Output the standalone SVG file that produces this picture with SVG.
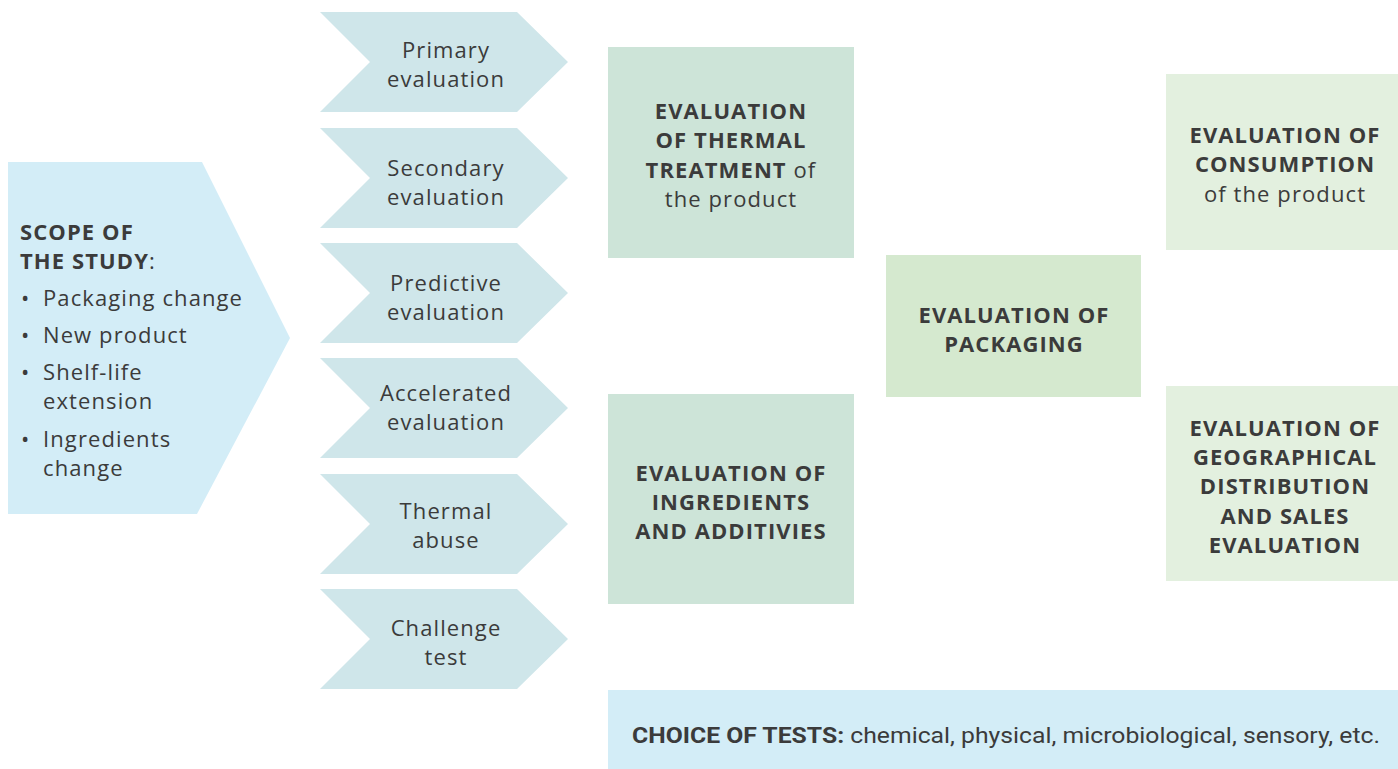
<svg xmlns="http://www.w3.org/2000/svg" xmlns:xlink="http://www.w3.org/1999/xlink" width="1398" height="769" viewBox="0 0 1398 769">
<style>
  text { font-family: "Open Sans", "Noto Sans", "Liberation Sans", sans-serif; fill: #3b3b3b; font-size: 22px; letter-spacing: 1.1px; }
  .b { font-weight: 700; }
  .c { text-anchor: middle; }
  .chev { fill: #cfe6ea; }
  .scope { fill: #d3edf7; }
  .g1 { fill: #cde4d8; }
  .g2 { fill: #d5e9cf; }
  .g3 { fill: #e3f0df; }
  .narrow { font-family: Roboto, "Liberation Sans", sans-serif; font-size: 22px; letter-spacing: 0; }
</style>
<defs>
  <polygon id="chevShape" points="0,0 197,0 248,50 197,100 0,100 50,50"/>
</defs>
<rect width="1398" height="769" fill="#ffffff"/>
<g id="connectors"></g>

<g id="scope">
  <polygon class="scope" points="8,162 202,162 290,338 197,514 8,514"/>
  <text x="20" y="240" class="b">SCOPE OF</text>
  <text x="20" y="269"><tspan class="b">THE STUDY</tspan>:</text>
  <text x="21" y="306">•</text><text x="43" y="306">Packaging change</text>
  <text x="21" y="343">•</text><text x="43" y="343">New product</text>
  <text x="21" y="380">•</text><text x="43" y="380">Shelf-life</text>
  <text x="43" y="409">extension</text>
  <text x="21" y="447">•</text><text x="43" y="447">Ingredients</text>
  <text x="43" y="476">change</text>
</g>

<g id="primary">
  <use xlink:href="#chevShape" class="chev" x="320" y="12"/>
  <text x="446" y="58" class="c">Primary</text>
  <text x="446" y="87" class="c">evaluation</text>
</g>
<g id="secondary">
  <use xlink:href="#chevShape" class="chev" x="320" y="128"/>
  <text x="446" y="176" class="c">Secondary</text>
  <text x="446" y="205" class="c">evaluation</text>
</g>
<g id="predictive">
  <use xlink:href="#chevShape" class="chev" x="320" y="243"/>
  <text x="446" y="291" class="c">Predictive</text>
  <text x="446" y="320" class="c">evaluation</text>
</g>
<g id="accelerated">
  <use xlink:href="#chevShape" class="chev" x="320" y="358"/>
  <text x="446" y="401" class="c">Accelerated</text>
  <text x="446" y="430" class="c">evaluation</text>
</g>
<g id="thermal-abuse">
  <use xlink:href="#chevShape" class="chev" x="320" y="474"/>
  <text x="446" y="519" class="c">Thermal</text>
  <text x="446" y="548" class="c">abuse</text>
</g>
<g id="challenge">
  <use xlink:href="#chevShape" class="chev" x="320" y="589"/>
  <text x="446" y="636" class="c">Challenge</text>
  <text x="446" y="665" class="c">test</text>
</g>

<g id="thermal-treatment">
  <rect class="g1" x="608" y="47" width="246" height="211"/>
  <text x="731" y="119" class="c b">EVALUATION</text>
  <text x="731" y="148" class="c b">OF THERMAL</text>
  <text x="731" y="178" class="c"><tspan class="b">TREATMENT</tspan> of</text>
  <text x="731" y="207" class="c">the product</text>
</g>
<g id="ingredients">
  <rect class="g1" x="608" y="394" width="246" height="210"/>
  <text x="731" y="481" class="c b">EVALUATION OF</text>
  <text x="731" y="510" class="c b">INGREDIENTS</text>
  <text x="731" y="539" class="c b">AND ADDITIVIES</text>
</g>
<g id="packaging">
  <rect class="g2" x="886" y="255" width="255" height="142"/>
  <text x="1014" y="323" class="c b">EVALUATION OF</text>
  <text x="1014" y="352" class="c b">PACKAGING</text>
</g>
<g id="consumption">
  <rect class="g3" x="1166" y="74" width="232" height="176"/>
  <text x="1285" y="143" class="c b">EVALUATION OF</text>
  <text x="1285" y="172" class="c b">CONSUMPTION</text>
  <text x="1285" y="202" class="c">of the product</text>
</g>
<g id="geographical">
  <rect class="g3" x="1166" y="386" width="232" height="195"/>
  <text x="1285" y="436" class="c b">EVALUATION OF</text>
  <text x="1285" y="465" class="c b">GEOGRAPHICAL</text>
  <text x="1285" y="494" class="c b">DISTRIBUTION</text>
  <text x="1285" y="524" class="c b">AND SALES</text>
  <text x="1285" y="553" class="c b">EVALUATION</text>
</g>
<g id="choice-of-tests">
  <rect class="scope" x="608" y="690" width="790" height="79"/>
  <text x="632" y="743" class="narrow" textLength="748" lengthAdjust="spacingAndGlyphs"><tspan class="b">CHOICE OF TESTS:</tspan> chemical, physical, microbiological, sensory, etc.</text>
</g>
</svg>
